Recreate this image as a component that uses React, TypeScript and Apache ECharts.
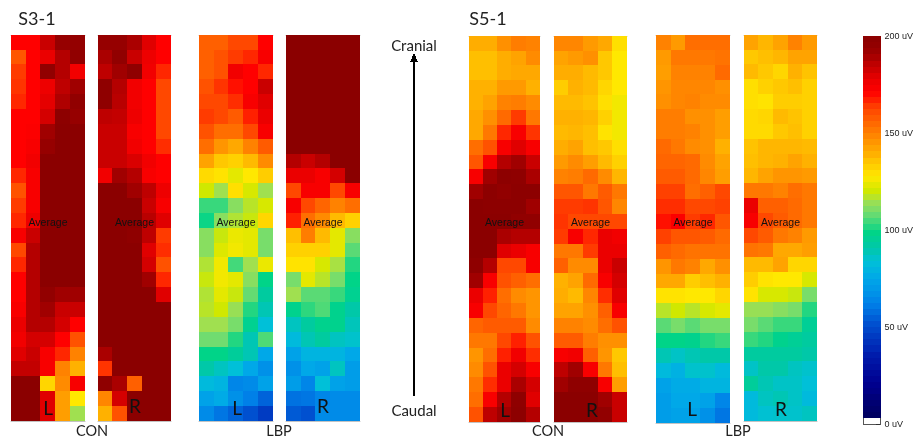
import React, { useEffect, useRef } from "react";
import * as echarts from "echarts";

const columns = ["1", "2", "3", "4", "5"];
const rows = ["1","2","3","4","5","6","7","8","9","10","11","12","13","14","15","16","17","18","19","20","21","22","23","24","25","26"];

const s3ConL = [
  [170,170,182,192,193],[157,170,176,186,195],[162,170,195,186,174],[163,170,175,184,190],[165,170,177,187,195],
  [170,170,180,197,192],[170,171,190,198,198],[170,172,192,198,198],[170,174,198,198,198],[165,172,198,198,198],
  [158,172,198,198,198],[162,172,198,198,198],[165,175,198,198,198],[172,182,198,198,198],[160,186,198,198,198],
  [165,186,198,198,198],[170,186,198,198,198],[170,186,194,190,190],[172,186,190,182,182],[176,186,186,180,170],
  [174,180,180,170,158],[178,182,172,165,148],[183,183,172,148,138],[198,198,130,146,172],[198,198,178,142,126],
  [198,198,178,142,113],
];
const s3ConR = [
  [192,192,188,178,170],[188,195,182,175,170],[184,190,196,174,165],[196,186,174,170,160],[196,185,174,170,160],
  [184,183,175,170,160],[182,182,172,170,160],[182,182,174,170,164],[182,182,179,174,170],[174,190,186,172,170],
  [198,198,190,184,175],[198,198,198,182,172],[198,198,198,185,178],[198,198,196,184,162],[198,198,198,178,164],
  [198,198,198,180,158],[198,198,198,190,165],[198,198,198,198,178],[198,198,198,198,198],[198,198,198,198,198],
  [198,198,198,198,198],[188,198,198,198,198],[163,198,198,198,198],[196,188,155,198,198],[147,180,198,198,198],
  [138,158,198,198,198],
];
const s3LbpL = [
  [155,155,160,160,170],[155,158,162,165,172],[155,158,174,170,165],[158,163,168,170,182],[160,160,164,172,178],
  [162,160,156,166,176],[158,152,152,160,172],[152,144,140,148,156],[141,133,131,136,146],[129,127,122,126,132],
  [119,113,128,120,113],[102,102,110,116,120],[98,110,115,118,130],[110,118,123,122,108],[110,121,124,122,108],
  [115,124,103,113,123],[118,124,122,110,97],[115,122,118,106,92],[116,119,112,100,88],[113,113,108,95,82],
  [107,107,100,88,104],[97,97,93,88,74],[90,86,82,74,66],[80,78,62,64,72],[72,75,66,60,54],
  [64,58,54,50,44],
];
const s3LbpR = [
  [198,198,198,198,198],[198,198,198,198,198],[198,198,198,198,198],[198,198,198,198,198],[198,198,198,198,198],
  [198,198,198,198,198],[198,198,198,198,198],[198,198,198,198,198],[186,182,186,198,198],[176,176,172,180,198],
  [160,172,172,160,172],[172,160,154,148,152],[166,152,146,136,131],[135,149,136,122,110],[131,131,131,122,105],
  [127,127,120,114,100],[108,122,116,108,97],[113,105,105,102,95],[96,101,104,96,90],[86,92,96,96,87],
  [80,88,92,86,84],[72,78,78,78,74],[66,74,72,86,70],[70,62,82,72,70],[57,58,62,64,64],
  [52,50,64,64,64],
];
const s5ConL = [
  [139,139,145,149,148],[135,135,139,141,146],[135,135,139,140,140],[138,138,143,143,138],[138,141,148,149,146],
  [140,145,153,162,150],[140,150,165,172,163],[152,158,172,178,172],[157,172,186,190,182],[172,190,197,196,188],
  [190,197,194,197,197],[198,197,197,197,190],[198,198,198,195,195],[198,198,188,186,186],[198,198,178,176,172],
  [196,186,160,160,172],[190,172,158,155,152],[176,166,152,146,144],[172,160,154,150,144],[154,156,156,156,146],
  [150,150,160,166,158],[144,152,166,174,164],[146,158,176,180,172],[150,164,176,188,180],[152,172,186,196,178],
  [158,184,190,197,186],
];
const s5ConR = [
  [147,147,143,140,128],[141,143,145,133,126],[139,139,136,133,126],[132,138,136,130,126],[136,136,134,128,124],
  [138,138,137,131,124],[136,137,135,127,124],[139,141,135,133,128],[143,146,142,136,131],[148,149,153,146,137],
  [157,157,150,156,150],[162,162,163,157,147],[163,160,160,160,160],[162,172,165,176,174],[150,150,162,176,176],
  [155,146,146,176,182],[138,141,153,172,180],[139,136,147,164,178],[141,141,145,155,172],[148,148,146,152,158],
  [156,156,149,145,145],[172,174,155,144,133],[184,190,172,150,135],[190,196,196,172,142],[198,198,198,190,182],
  [198,198,198,194,182],
];
const s5LbpL = [
  [148,143,152,152,152],[143,150,150,150,151],[142,148,148,148,153],[144,147,147,147,145],[145,147,148,146,146],
  [149,149,145,145,142],[149,149,148,145,142],[153,150,146,145,138],[154,154,153,146,141],[156,156,153,147,142],
  [161,161,152,155,160],[164,164,160,160,161],[168,171,162,165,157],[161,157,157,156,153],[155,153,151,151,151],
  [144,150,148,140,145],[140,140,132,135,138],[127,127,126,126,130],[116,119,116,120,122],[105,108,105,108,108],
  [97,97,96,100,102],[88,85,88,90,90],[80,77,84,84,80],[72,75,75,78,78],[70,74,74,72,62],
  [70,72,72,66,58],
];
const s5LbpR = [
  [141,137,141,148,143],[133,135,137,141,141],[136,133,130,138,134],[128,131,133,135,131],[128,127,132,132,131],
  [129,130,136,134,131],[129,129,133,135,131],[134,137,137,137,136],[135,137,138,141,138],[137,141,144,144,143],
  [150,150,148,152,150],[176,155,155,153,150],[172,160,156,153,150],[160,156,150,148,143],[151,150,140,140,142],
  [136,136,141,130,130],[132,127,126,126,120],[127,120,120,118,108],[112,112,110,108,100],[108,105,102,102,94],
  [102,100,96,94,92],[92,92,92,92,90],[85,90,90,86,84],[93,88,85,85,82],[80,86,88,85,80],
  [80,83,84,84,86],
];

const colorbarLevels = [
  3,6,9,12,16,19,22,25,28,31,34,38,41,44,47,50,53,56,59,62,66,69,72,75,78,81,84,88,91,94,97,100,
  103,106,109,112,116,119,122,125,128,131,134,138,141,144,147,150,153,156,159,162,166,169,172,175,178,181,184,188,191,194,197,
];
const tickValues = { min: 0, max: 200, step: 50 };

const colorStops: [number, number[]][] = [
  [0,[0,0,90]],[20,[0,0,144]],[36,[0,32,176]],[50,[0,80,208]],[60,[0,128,232]],[74,[0,168,232]],[82,[0,192,216]],
  [90,[0,200,168]],[97,[0,212,136]],[107,[112,220,112]],[113,[160,224,80]],[119,[208,232,0]],[126,[255,232,0]],
  [133,[255,200,0]],[140,[255,168,0]],[150,[255,120,0]],[160,[255,72,0]],[166,[255,32,0]],[170,[255,0,0]],
  [176,[235,0,0]],[183,[195,0,0]],[192,[150,0,0]],[198,[139,0,0]],[200,[128,0,0]],
];

function buildPalette() {
  const out: string[] = [];
  for (let v = 0; v <= 200; v += 1) {
    let k = 0;
    while (k < colorStops.length - 2 && colorStops[k + 1][0] <= v) k++;
    const [a, ca] = colorStops[k];
    const [b, cb] = colorStops[k + 1];
    const t = (v - a) / (b - a);
    const c = ca.map((x, i) => Math.round(x + (cb[i] - x) * t));
    out.push(`rgb(${c[0]},${c[1]},${c[2]})`);
  }
  return out;
}

const panelData = [s3ConL, s3ConR, s3LbpL, s3LbpR, s5ConL, s5ConR, s5LbpL, s5LbpR];
const panelSides = ["L", "R", "L", "R", "L", "R", "L", "R"];
const AVERAGE = "Average";

const panelBoxes = [
  { left: 11, top: 35, width: 74, height: 386, letterX: 48, letterY: 407 },
  { left: 98, top: 35, width: 73, height: 386, letterX: 135, letterY: 405 },
  { left: 199, top: 35, width: 74, height: 386, letterX: 237, letterY: 407 },
  { left: 286, top: 35, width: 74, height: 386, letterX: 323, letterY: 405 },
  { left: 469, top: 36, width: 71, height: 386, letterX: 505, letterY: 409 },
  { left: 554, top: 36, width: 73, height: 386, letterX: 592, letterY: 409 },
  { left: 656, top: 35, width: 74, height: 388, letterX: 692, letterY: 408 },
  { left: 744, top: 35, width: 73, height: 386, letterX: 781, letterY: 408 },
];

const SANS = 'Lato, "Open Sans", sans-serif';
const ARIAL = '"Liberation Sans", Arial, sans-serif';

function label(text: string, x: number, y: number, fontSize: number, fontFamily: string, fill = "#222") {
  return {
    type: "text", x, y, z: 50,
    style: { text, fontSize, fontFamily, fill, align: "center", verticalAlign: "middle", lineHeight: fontSize },
  };
}

function buildOption() {
  const grid: any[] = [];
  const xAxis: any[] = [];
  const yAxis: any[] = [];
  const series: any[] = [];
  const graphic: any[] = [];

  panelData.forEach((matrix, i) => {
    const b = panelBoxes[i];
    grid.push({ left: b.left, top: b.top, width: b.width, height: b.height, containLabel: false });
    const tickAxis = (position: string) => ({
      type: "category", gridIndex: i, position, data: columns,
      axisLabel: { show: false }, splitLine: { show: false }, splitArea: { show: false },
      axisLine: { show: true, onZero: false, lineStyle: { color: "#9a9a9a", width: 0.6 } },
      axisTick: {
        show: true, inside: true, length: 2, alignWithLabel: true,
        interval: (idx: number) => idx === 1 || idx === 3,
        lineStyle: { color: "#333", width: 1 },
      },
    });
    xAxis.push(tickAxis("bottom"), tickAxis("top"));
    yAxis.push({
      type: "category", gridIndex: i, data: rows, inverse: true, show: false,
      splitArea: { show: false },
    });
    const data: number[][] = [];
    matrix.forEach((row, r) => row.forEach((v, c) => data.push([c, r, v])));
    series.push({
      type: "heatmap", xAxisIndex: 2 * i, yAxisIndex: i, data, silent: true,
      itemStyle: { borderWidth: 0 }, emphasis: { disabled: true },
    });
    graphic.push(label(AVERAGE, b.left + b.width / 2, 222, 10.5, ARIAL, "#111"));
    graphic.push(label(panelSides[i], b.letterX, b.letterY, 19, SANS, "#111"));
  });

  const barRows = ["0", ...colorbarLevels.map(String)];
  grid.push({
    left: 863, top: 36, width: 21, height: 388, show: true,
    backgroundColor: "#fff", borderColor: "#555", borderWidth: 1,
  });
  xAxis.push({ type: "category", gridIndex: 8, data: ["bar"], show: false });
  yAxis.push({ type: "category", gridIndex: 8, data: barRows, show: false });
  yAxis.push({
    type: "value", gridIndex: 8, position: "right",
    min: tickValues.min, max: tickValues.max, interval: tickValues.step,
    splitLine: { show: false },
    axisLine: { show: false },
    axisTick: { show: true, inside: true, length: 4, lineStyle: { color: "#333" } },
    axisLabel: {
      show: true, margin: 4, fontSize: 9, fontFamily: ARIAL, color: "#222",
      formatter: (v: number) => `${v} uV`,
    },
  });
  series.push({
    type: "heatmap", xAxisIndex: 16, yAxisIndex: 8, silent: true,
    data: colorbarLevels.map((v, i) => [0, i + 1, v]),
    itemStyle: { borderWidth: 0 }, emphasis: { disabled: true },
  });

  graphic.push(
    label("S3-1", 37, 18, 18, SANS),
    label("S5-1", 488, 18, 18, SANS),
    label("CON", 92, 430, 14.5, SANS),
    label("LBP", 279, 430, 14.5, SANS),
    label("CON", 548, 430, 14.5, SANS),
    label("LBP", 738, 430, 14.5, SANS),
    label("Cranial", 414, 45, 15, SANS),
    label("Caudal", 414, 410, 15, SANS),
    {
      type: "line", z: 50,
      shape: { x1: 414, y1: 60, x2: 414, y2: 396 },
      style: { stroke: "#000", lineWidth: 2 },
    },
    {
      type: "polygon", z: 50,
      shape: { points: [[414, 53], [410, 62], [418, 62]] },
      style: { fill: "#000" },
    },
  );

  return {
    animation: false,
    backgroundColor: "#fff",
    tooltip: { show: false },
    visualMap: {
      show: false, type: "continuous", min: 0, max: 200,
      seriesIndex: series.map((_, i) => i),
      inRange: { color: buildPalette() },
    },
    grid, xAxis, yAxis, series, graphic,
  };
}

export default function App() {
  const ref = useRef<HTMLDivElement>(null);
  useEffect(() => {
    document.body.style.margin = "0";
    const chart = echarts.init(ref.current!, undefined, { renderer: "svg" });
    chart.setOption(buildOption() as any);
    return () => chart.dispose();
  }, []);
  return (
    <>
      <style>{`.heat-chart svg path { shape-rendering: crispEdges; } .heat-chart { filter: blur(0.45px); }`}</style>
      <div className="heat-chart" ref={ref} style={{ width: 916, height: 439 }} />
    </>
  );
}
